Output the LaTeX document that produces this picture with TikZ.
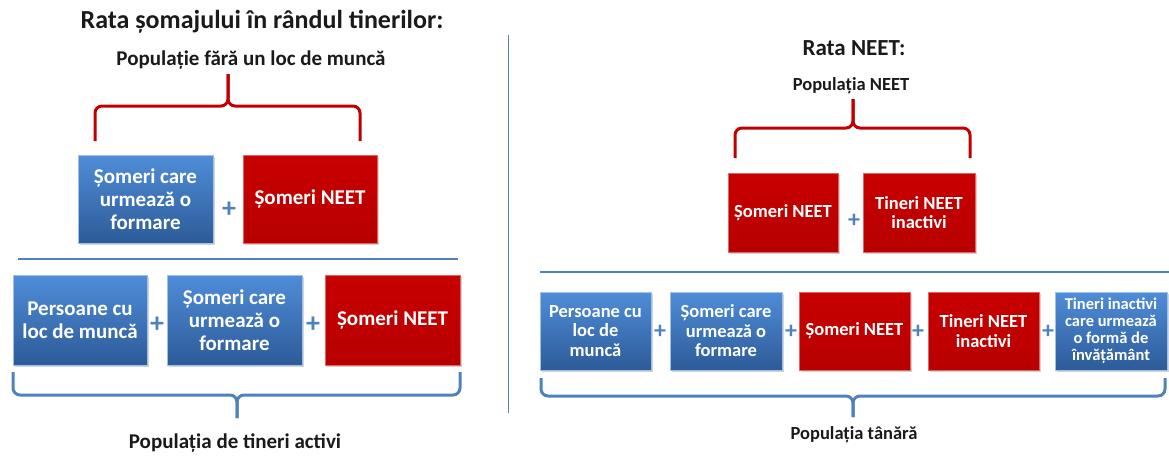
\documentclass[tikz,border=0pt]{standalone}
\usepackage{fontspec}
\setmainfont{Carlito}
\usetikzlibrary{positioning,shadows}
\definecolor{boxblue}{HTML}{4F8DD8}
\definecolor{boxbluedark}{HTML}{2D5B98}
\definecolor{boxred}{HTML}{C80000}
\definecolor{boxreddark}{HTML}{B80000}
\definecolor{lineblue}{HTML}{4F81BD}
\definecolor{bracered}{HTML}{C00000}
\definecolor{titlegray}{HTML}{1A1A1A}
\tikzset{
  block/.style={rectangle, text=white, align=center, inner sep=2pt,
    font=\bfseries\fontsize{21}{23}\selectfont, line width=1pt,
    drop shadow={shadow xshift=1.5pt, shadow yshift=-2pt, opacity=0.35}},
  bluebox/.style={block, top color=boxblue, bottom color=boxbluedark, draw=boxblue!55!white},
  redbox/.style={block, top color=boxred, bottom color=boxreddark, draw=boxred!60!white},
  narrow/.style={font=\bfseries\fontsize{18.5}{19.5}\selectfont},
  plus/.style={text=lineblue, font=\bfseries\fontsize{28}{28}\selectfont, inner sep=0pt},
  smallplus/.style={plus, font=\bfseries\fontsize{24}{24}\selectfont},
  heading/.style={text=titlegray, font=\bfseries\fontsize{26}{30}\selectfont},
  caption/.style={text=titlegray, font=\bfseries\fontsize{21}{24}\selectfont},
  redbrace/.style={draw=bracered, line width=3pt, rounded corners=7pt},
  bluebrace/.style={draw=lineblue, line width=3pt, rounded corners=7pt},
  rule/.style={draw=lineblue, line width=2.5pt}
}

\begin{document}
\begin{tikzpicture}[x=1pt, y=-1pt]
  \useasboundingbox (0,0) rectangle (1169,456);

  % left half: youth unemployment rate
  \node[heading] (t1) at (262,22) {Rata șomajului în rândul tinerilor:};
  \node[caption] (c1) at (251,60) {Populație fără un loc de muncă};

  \node[bluebox, minimum width=135pt, minimum height=88pt] (u1) at (145.5,199) {Șomeri care\\urmează o\\formare};
  \node[redbox, minimum width=134pt, minimum height=88pt] (u2) at (310,199) {Șomeri NEET};
  \node[plus] (p1) at (229,210) {+};

  \path[rule] (18,259) -- (458,259);

  \node[bluebox, minimum width=134pt, minimum height=90pt] (a1) at (80,320) {Persoane cu\\loc de muncă};
  \node[bluebox, minimum width=135pt, minimum height=90pt] (a2) at (234.5,320) {Șomeri care\\urmează o\\formare};
  \node[redbox, minimum width=135pt, minimum height=90pt] (a3) at (392.5,320) {Șomeri NEET};
  \node[plus] (p2) at (157,325) {+};
  \node[plus] (p3) at (313,325) {+};

  \node[caption] (c2) at (235,443) {Populația de tineri activi};

  % braces
  \path[redbrace] (95,141) -- (95,106) -- (228,106) -- (228,74);
  \path[redbrace] (360,141) -- (360,106) -- (228,106) -- (228,74);
  \path[bluebrace] (13,372) -- (13,395) -- (237,395) -- (237,418);
  \path[bluebrace] (460,372) -- (460,395) -- (237,395) -- (237,418);

  % divider
  \draw[lineblue, line width=1pt] (508,35) -- (508,413);

  % right half: NEET rate
  \node[heading, font=\bfseries\fontsize{23}{27}\selectfont] (t2) at (854,48) {Rata NEET:};
  \node[caption, font=\bfseries\fontsize{18.5}{22}\selectfont] (c3) at (851,86) {Populația NEET};

  \node[redbox, narrow, minimum width=110pt, minimum height=79pt] (n1) at (783,212.5) {Șomeri NEET};
  \node[redbox, narrow, minimum width=112pt, minimum height=79pt] (n2) at (919,212.5) {Tineri NEET\\inactivi};
  \node[smallplus] (p4) at (854,221) {+};

  \path[rule] (540,272) -- (1169,272);

  \node[bluebox, narrow, minimum width=111pt, minimum height=78pt] (y1) at (595.5,331) {Persoane cu\\loc de\\muncă};
  \node[bluebox, narrow, minimum width=112pt, minimum height=78pt] (y2) at (726,331) {Șomeri care\\urmează o\\formare};
  \node[redbox, narrow, minimum width=111pt, minimum height=78pt] (y3) at (854.5,331) {Șomeri NEET};
  \node[redbox, narrow, minimum width=111pt, minimum height=78pt] (y4) at (983.5,331) {Tineri NEET\\inactivi};
  \node[bluebox, minimum width=112pt, minimum height=78pt,
        font=\bfseries\fontsize{16.5}{17}\selectfont] (y5) at (1111,331) {Tineri inactivi\\care urmează\\o formă de\\învățământ};
  \node[smallplus] (p5) at (660,332) {+};
  \node[smallplus] (p6) at (791,332) {+};
  \node[smallplus] (p7) at (918,332) {+};
  \node[smallplus] (p8) at (1048,332) {+};

  \node[caption, font=\bfseries\fontsize{18.5}{22}\selectfont] (c4) at (854,435) {Populația tânără};

  % braces
  \path[redbrace] (735,158) -- (735,128) -- (853,128) -- (853,99);
  \path[redbrace] (970,158) -- (970,128) -- (853,128) -- (853,99);
  \path[bluebrace] (541,378) -- (541,396) -- (853,396) -- (853,417);
  \path[bluebrace] (1165,378) -- (1165,396) -- (853,396) -- (853,417);
\end{tikzpicture}
\end{document}
